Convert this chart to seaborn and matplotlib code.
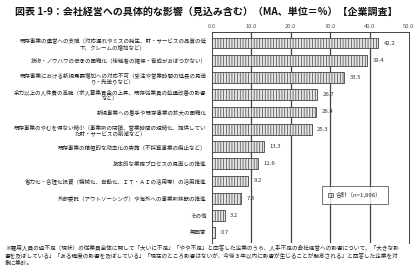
import matplotlib
matplotlib.use("Agg")
import matplotlib.pyplot as plt
import seaborn as sns
import pandas as pd
from matplotlib.patches import Patch

categories = [
    "既存事業の運営への支障（対応遅れやミスの発生、財・サービスの品質の低\n下、クレームの増加など）",
    "技術・ノウハウの伝承の困難化（後継者の確保・育成がおぼつかない）",
    "既存事業における新規需要増加への対応不可（受注や営業時間の延長の見送\nり・先送りなど）",
    "余力以上の人件費の高騰（求人募集賃金の上昇、既存従業員の処遇改善の影響\nなど）",
    "新規事業への着手や既存事業の拡大の困難化",
    "既存事業のやむを得ない縮小（事業所の閉鎖、営業時間の短縮化、提供してい\nた財・サービスの削減など）",
    "既存事業の積極的な効率化の実施（不採算事業の廃止など）",
    "抜本的な業務プロセスの見直しの推進",
    "省力化・合理化投資（機械化、自動化、ＩＴ・ＡＩの活用等）の活用推進",
    "外部委託（アウトソーシング）や海外への事業所移転の推進",
    "その他",
    "無回答",
]
values = [42.2, 39.4, 33.5, 26.7, 26.4, 25.3, 13.3, 11.6, 9.2, 7.3, 3.2, 0.7]
series_name = "合計（n=1,898）"
x_ticks = [0, 10, 20, 30, 40, 50]
x_tick_labels = ["0.0", "10.0", "20.0", "30.0", "40.0", "50.0"]

title = "図表 1-9：会社経営への具体的な影響（見込み含む）（MA、単位＝%）【企業調査】"
footnote = ("※雇用人員の過不足（現状）の従業員全体に関して「大いに不足」「やや不足」と回答した企業のうち、人手不足の会社経営への影響について、「大きな影\n"
            "響を及ぼしている」「ある程度の影響を及ぼしている」「現在のところ影響はないが、今後３年以内に影響が生じることが懸念される」と回答した企業を対\n"
            "象に集計。")

sns.set_theme(style="white")
plt.rcParams["font.family"] = ["Noto Sans CJK JP", "DejaVu Sans"]
plt.rcParams["hatch.linewidth"] = 0.5
plt.rcParams["hatch.color"] = "#555555"

df = pd.DataFrame({"cat": categories, "val": values})

fig = plt.figure(figsize=(4.2, 2.68), dpi=100)
ax = fig.add_axes([212 / 420, 1 - 243 / 268, (409 - 212) / 420, (243 - 32) / 268])

sns.barplot(data=df, x="val", y="cat", orient="h", ax=ax, color="#e6e6e6",
            width=0.62, edgecolor="#444444", linewidth=0.6, saturation=1)
for p in ax.patches:
    p.set_hatch("||||||")

ax.set_xlim(0, 50)
ax.set_ylim(len(categories) - 0.4, -0.64)
ax.set_xlabel("")
ax.set_ylabel("")

ax.xaxis.tick_top()
ax.set_xticks(x_ticks)
ax.set_xticklabels(x_tick_labels, fontsize=4.2, color="#555555")
ax.tick_params(axis="x", length=0, pad=2)
ax.tick_params(axis="y", which="major", length=0, pad=4)

for lab in ax.get_yticklabels():
    lab.set_fontsize(3.95)
    lab.set_multialignment("center")
    lab.set_color("#222222")

ax.set_yticks([i + 0.5 for i in range(len(categories))], minor=True)
ax.tick_params(axis="y", which="minor", length=2, width=0.6, direction="in", color="#333333")

ax.set_axisbelow(True)
for xv in x_ticks[1:-1]:
    ax.axvline(xv, color="#444444", lw=0.9, zorder=0)

for s in ["top", "right", "left"]:
    ax.spines[s].set_visible(True)
    ax.spines[s].set_color("#444444")
    ax.spines[s].set_linewidth(0.7)
ax.spines["bottom"].set_visible(False)

for i, v in enumerate(values):
    ax.text(v + 1.4, i, f"{v:.1f}", va="center", ha="left", fontsize=4.3, color="#333333")

handle = Patch(facecolor="#e6e6e6", edgecolor="#444444", hatch="||||", linewidth=0.5)
leg = ax.legend([handle], [series_name], loc="center",
                bbox_to_anchor=((355 - 212) / 197, 1 - (195 - 32) / 211),
                fontsize=4.3, frameon=True, fancybox=False, borderpad=1.0,
                handlelength=0.8, handleheight=0.8, handletextpad=0.4,
                borderaxespad=0)
leg.get_frame().set_edgecolor("#333333")
leg.get_frame().set_linewidth(0.6)
leg.get_frame().set_facecolor("white")
leg.set_zorder(5)

fig.text(206 / 420, 1 - 12 / 268, title, ha="center", va="center", fontsize=7.2, fontweight="bold", color="#111111")
fig.text(5 / 420, 1 - 245 / 268, footnote, ha="left", va="top", fontsize=4.05, color="#222222", linespacing=1.35)

fig.savefig("out.png", dpi=100)
